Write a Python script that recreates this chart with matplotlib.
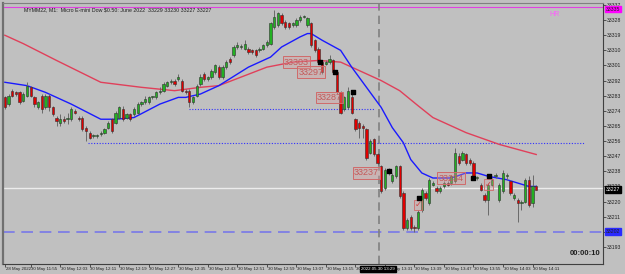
import numpy as np
import matplotlib
matplotlib.use("Agg")
import matplotlib.pyplot as plt

# M1 bars
opens = [33282, 33278, 33286, 33285, 33285, 33280, 33283, 33288, 33282, 33276,
         33283, 33276, 33283, 33276, 33270, 33267, 33269, 33269, 33269, 33274,
         33270, 33270, 33264, 33261, 33259, 33259, 33260, 33261, 33264, 33269,
         33267, 33270, 33275, 33270, 33272, 33272, 33273, 33278, 33279, 33279,
         33282, 33282, 33285, 33286, 33289, 33291, 33292, 33293, 33292, 33286,
         33286, 33279, 33283, 33290, 33296, 33293, 33294, 33297, 33300, 33294,
         33300, 33305, 33307, 33312, 33312, 33311, 33311, 33310, 33310, 33310,
         33311, 33313, 33314, 33324, 33325, 33331, 33327, 33326, 33325, 33325,
         33328, 33330, 33325, 33326, 33316, 33311, 33303, 33302, 33303, 33304,
         33297, 33285, 33275, 33276, 33282, 33269, 33267, 33265, 33263, 33249,
         33257, 33248, 33241, 33228, 33239, 33232, 33235, 33241, 33225, 33204,
         33211, 33205, 33204, 33215, 33225, 33219, 33230, 33228, 33226, 33229,
         33231, 33231, 33232, 33247, 33245, 33248, 33245, 33243, 33234, 33230,
         33224, 33221, 33230, 33235, 33221, 33226, 33235, 33232, 33222, 33221,
         33219, 33220, 33233, 33219, 33229]
highs = [33283, 33284, 33287, 33286, 33286, 33285, 33291, 33289, 33283, 33280,
         33284, 33284, 33284, 33277, 33271, 33272, 33271, 33273, 33276, 33275,
         33271, 33271, 33265, 33262, 33260, 33260, 33262, 33264, 33268, 33270,
         33274, 33277, 33277, 33273, 33273, 33276, 33279, 33280, 33283, 33283,
         33283, 33286, 33288, 33291, 33292, 33293, 33293, 33296, 33293, 33287,
         33287, 33283, 33290, 33296, 33297, 33295, 33299, 33302, 33301, 33301,
         33304, 33306, 33313, 33315, 33314, 33316, 33312, 33311, 33311, 33312,
         33314, 33316, 33327, 33334, 33333, 33332, 33328, 33327, 33327, 33329,
         33331, 33331, 33330, 33327, 33317, 33312, 33304, 33304, 33307, 33305,
         33298, 33286, 33283, 33288, 33284, 33270, 33268, 33266, 33264, 33257,
         33258, 33249, 33242, 33240, 33240, 33237, 33242, 33242, 33226, 33210,
         33212, 33206, 33215, 33228, 33226, 33234, 33232, 33229, 33229, 33232,
         33232, 33236, 33252, 33249, 33250, 33249, 33246, 33244, 33235, 33231,
         33225, 33231, 33234, 33237, 33231, 33239, 33237, 33233, 33225, 33222,
         33221, 33234, 33235, 33236, 33230]
lows = [33275, 33277, 33282, 33283, 33278, 33279, 33282, 33282, 33276, 33275,
        33273, 33275, 33274, 33271, 33265, 33265, 33267, 33266, 33268, 33272,
        33268, 33262, 33256, 33257, 33258, 33258, 33259, 33260, 33263, 33261,
        33266, 33269, 33268, 33269, 33268, 33271, 33272, 33277, 33278, 33278,
        33281, 33281, 33284, 33285, 33288, 33290, 33289, 33292, 33285, 33284,
        33276, 33278, 33282, 33289, 33292, 33292, 33293, 33296, 33293, 33293,
        33299, 33302, 33306, 33311, 33311, 33310, 33308, 33308, 33306, 33309,
        33310, 33312, 33313, 33323, 33324, 33325, 33323, 33323, 33324, 33324,
        33327, 33329, 33324, 33312, 33309, 33302, 33296, 33301, 33302, 33296,
        33284, 33272, 33274, 33275, 33272, 33262, 33258, 33258, 33245, 33248,
        33247, 33242, 33225, 33227, 33236, 33231, 33234, 33222, 33203, 33203,
        33203, 33202, 33203, 33214, 33221, 33218, 33229, 33225, 33225, 33228,
        33229, 33230, 33231, 33242, 33244, 33242, 33242, 33233, 33233, 33226,
        33220, 33212, 33229, 33234, 33220, 33225, 33233, 33224, 33221, 33208,
        33215, 33219, 33217, 33217, 33227]
closes = [33276, 33283, 33283, 33284, 33279, 33284, 33289, 33283, 33278, 33279,
          33275, 33283, 33276, 33272, 33268, 33269, 33268, 33269, 33275, 33273,
          33269, 33263, 33262, 33258, 33259, 33259, 33261, 33263, 33267, 33262,
          33273, 33276, 33269, 33272, 33269, 33275, 33278, 33279, 33281, 33282,
          33282, 33285, 33286, 33290, 33291, 33292, 33290, 33294, 33286, 33285,
          33279, 33282, 33289, 33294, 33293, 33294, 33298, 33301, 33294, 33300,
          33303, 33303, 33312, 33313, 33312, 33314, 33309, 33309, 33307, 33311,
          33313, 33315, 33326, 33330, 33332, 33326, 33324, 33324, 33326, 33328,
          33330, 33330, 33329, 33313, 33310, 33303, 33297, 33303, 33305, 33297,
          33285, 33273, 33282, 33286, 33273, 33263, 33264, 33264, 33246, 33256,
          33248, 33243, 33226, 33239, 33237, 33236, 33241, 33223, 33204, 33209,
          33204, 33204, 33214, 33227, 33222, 33233, 33231, 33226, 33228, 33231,
          33230, 33235, 33249, 33243, 33249, 33243, 33243, 33234, 33234, 33227,
          33221, 33230, 33233, 33236, 33230, 33237, 33235, 33225, 33224, 33219,
          33219, 33233, 33218, 33229, 33227]

# moving averages at these bars
fast_bars = [0, 6, 11, 18, 26, 30, 35, 42, 47, 49, 53, 58, 66, 72, 75, 80, 82,
             83, 86, 91, 94, 98, 102, 105, 108, 110, 113, 116, 121, 125, 128,
             131, 136, 142, 144]
ma_fast = [33291, 33289, 33285, 33278, 33269, 33269, 33270, 33278, 33282, 33282,
           33284, 33289, 33300, 33306, 33312, 33318, 33320, 33320, 33316, 33310,
           33300, 33288, 33276, 33264, 33255, 33245, 33237, 33234, 33234, 33237,
           33237, 33235, 33233, 33229, 33229]
slow_bars = [0, 5, 14, 26, 37, 46, 53, 58, 71, 78, 85, 91, 96, 102, 107, 112,
             116, 125, 134, 144]
ma_slow = [33319, 33314, 33304, 33291, 33288, 33286, 33288, 33289, 33300, 33303,
           33304, 33303, 33298, 33292, 33286, 33277, 33270, 33261, 33254, 33248]

price_ticks = [33337, 33328, 33319, 33310, 33301, 33292, 33283, 33274, 33265,
               33256, 33247, 33238, 33229, 33220, 33211, 33202, 33193]
time_bars = [0, 7, 15, 23, 31, 39, 47, 55, 63, 71, 79, 87, 95, 103, 111, 119,
             127, 135, 143]
time_labels = ["28 May 2022", "30 May 11:55", "30 May 12:03", "30 May 12:11",
               "30 May 12:19", "30 May 12:27", "30 May 12:35", "30 May 12:43",
               "30 May 12:51", "30 May 12:59", "30 May 13:07", "30 May 13:15",
               "30 May 13:23", "30 May 13:31", "30 May 13:39", "30 May 13:47",
               "30 May 13:55", "30 May 14:03", "30 May 14:11"]

# trade labels / markers
lbl_bars = [79, 83, 88, 98, 121]
lbl_prices = [33303, 33297, 33282, 33237, 33234]
lbl_texts = ["33303", "33297", "33287", "33237", "33234"]
mark_bars = [85.4, 89.5, 94.3, 104, 112.2, 127, 131.2]
mark_prices = [33303, 33297, 33285, 33238, 33222, 33234, 33235]
check_bars = [112, 131]
check_prices = [33218, 33230]

bg = "#c0c0c0"
plt.rcParams['font.family'] = ['Liberation Sans', 'DejaVu Sans']

fig = plt.figure(figsize=(6.25, 2.74), dpi=100, facecolor=bg)
ax = fig.add_axes([3/625, 1-264/274, 600/625, 261/274], facecolor=bg)
ax.set_xlim(-0.5, 162.1)
ax.set_ylim(33182.8, 33338.2)

x = np.arange(len(opens))
o = np.array(opens); c = np.array(closes)
up = c >= o

# horizontal / vertical helper lines
ax.axhline(33336, color="#e040e0", lw=0.8)
ax.axhline(33228, color="#ececec", lw=1.0)
ax.axhline(33202, color="#7878e8", lw=1.2, dashes=(7, 4))
ax.axvline(101.4, color="#808080", lw=1.2, dashes=(5, 3))
ax.plot([22.5, 157], [33255, 33255], color="#3030ff", lw=0.8, ls=(0, (1, 1.5)))
ax.plot([50, 100.3], [33275, 33275], color="#3030ff", lw=0.8, ls=(0, (1, 1.5)))

# moving averages
ax.plot(slow_bars, ma_slow, color="#e0405a", lw=1.0)
ax.plot(fast_bars, ma_fast, color="#1a1aff", lw=1.0)

# candles
ax.vlines(x, lows, highs, color="#6a6a6a", lw=0.7, zorder=3)
body = np.where(np.abs(c - o) < 0.6, 0.6, c - o)
ax.bar(x, body, bottom=o, width=0.62, color=np.where(up, "#22b022", "#e00000"),
       edgecolor="#303030", linewidth=0.4, zorder=4)

# trade labels
for b, p, t in zip(lbl_bars, lbl_prices, lbl_texts):
    ax.text(b, p, t, fontsize=6.5, color="#c45a5a", ha="center", va="center",
            zorder=6, bbox=dict(boxstyle="square,pad=0.15", fc=(0.85, 0.62, 0.62, 0.35),
                                ec="#d06a6a", lw=0.7))
ax.scatter(mark_bars, mark_prices, marker="s", s=9, color="black", zorder=7)
for b, p in zip(check_bars, check_prices):
    ax.text(b, p, "\u2713", fontsize=6, color="#d04040", ha="center", va="center",
            family=["DejaVu Sans"], zorder=6,
            bbox=dict(boxstyle="square,pad=0.1", fc=(0.85, 0.62, 0.62, 0.3),
                      ec="#d06a6a", lw=0.6))

# axes styling
ax.spines["top"].set_color("#808080")
ax.spines["left"].set_color("#707070")
ax.spines["left"].set_linewidth(1.6)
for s in ["right", "bottom"]:
    ax.spines[s].set_color("#404040")
ax.yaxis.tick_right()
ax.set_yticks(price_ticks)
# 33202 is shown by the blue price box instead
ax.set_yticklabels([str(p) if p != 33202 else "" for p in price_ticks],
                   fontsize=3.7, color="#202020")
ax.tick_params(axis="y", length=2, width=0.5, pad=1, colors="#202020")
ax.set_xticks(time_bars)
ax.set_xticklabels([])
ax.tick_params(axis="x", length=2, width=0.5, colors="#202020")
for b, t in zip(time_bars, time_labels):
    ax.text(b + 0.2, -0.012, t, transform=ax.get_xaxis_transform(), fontsize=3.2,
            color="#202020", ha="left", va="top")
ax.text(96.5, -0.012, "2022.05.30 13:29", transform=ax.get_xaxis_transform(),
        fontsize=3.2, color="white", ha="left", va="top", zorder=10,
        bbox=dict(boxstyle="square,pad=0.25", fc="black", ec="black"))

# right-axis price boxes
tr = ax.get_yaxis_transform()
ax.text(1.004, 33334.5, "33335", transform=tr, fontsize=3.7, color="#202020",
        va="center", ha="left", bbox=dict(boxstyle="square,pad=0.15", fc="#ff00ff", ec="#ff00ff"))
ax.text(1.004, 33227, "33227", transform=tr, fontsize=3.7, color="white",
        va="center", ha="left", bbox=dict(boxstyle="square,pad=0.15", fc="black", ec="black"))
ax.text(1.004, 33202, "33202", transform=tr, fontsize=3.7, color="#202020",
        va="center", ha="left", bbox=dict(boxstyle="square,pad=0.15", fc="#2a2aff", ec="#2a2aff"))

# title, corner texts
ax.text(0.035, 0.985, "MYMM22, M1:  Micro E-mini Dow $0.50: June 2022  33229 33230 33227 33227",
        transform=ax.transAxes, fontsize=3.8, color="#202020", ha="left", va="top")
ax.text(0.91, 0.97, "HR", transform=ax.transAxes, fontsize=5, color="#ff5cff",
        ha="left", va="top")
ax.text(0.995, 0.025, "00:00:10", transform=ax.transAxes, fontsize=5.5,
        fontweight="bold", color="#202020", ha="right", va="bottom")

fig.savefig("out.png", dpi=100, facecolor=bg)
